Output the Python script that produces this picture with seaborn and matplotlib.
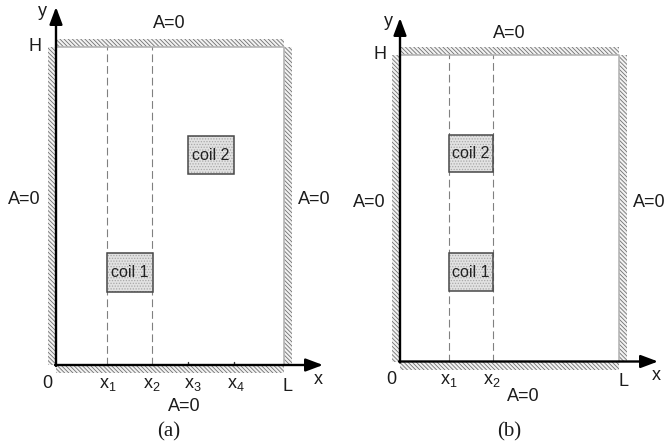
import matplotlib
matplotlib.use("Agg")
import matplotlib.pyplot as plt
from matplotlib.patches import Rectangle
import seaborn as sns

sns.set_theme(style="white")
plt.rcParams["font.family"] = ["Liberation Sans", "DejaVu Sans"]
plt.rcParams["mathtext.default"] = "regular"
plt.rcParams["mathtext.fontset"] = "custom"
plt.rcParams["mathtext.rm"] = "Liberation Sans"
plt.rcParams["hatch.linewidth"] = 0.6

FIG_W, FIG_H = 665, 448

# panel data (pixel-scale units measured from the origin)
L_a, H_a = 228, 318
dashes_a = [51, 96]
ticks_a = [132, 178]
coil_a_1 = (51, 73, 45.5, 39)
coil_a_2 = (131.5, 191, 46.5, 38)

L_b, H_b = 219, 306.5
dashes_b = [48.5, 93]
coil_b_1 = (48.5, 70.5, 44.5, 38)
coil_b_2 = (48.5, 189.5, 44.5, 37)


def draw_panel(left, right, ox, oy, L, H, dashes, coils, ticks, arrow_x, arrow_y, texts):
    ax = fig.add_axes([left / FIG_W, 0, (right - left) / FIG_W, 1])
    ax.set_xlim(left - ox, right - ox)
    ax.set_ylim(oy - FIG_H, oy)
    ax.axis("off")
    t = 8
    walls = [(0, H, L, t), (-t, 0, t, H), (L, 0, t, H), (0, -t, L, t)]
    for wall in walls:
        ax.add_patch(Rectangle(wall[:2], wall[2], wall[3], facecolor="#f2f2f2",
                               edgecolor="#707070", hatch="\\\\\\\\\\\\\\\\", lw=0, zorder=1))
    sns.lineplot(x=[0, L, L], y=[H, H, 0], color="#b5b5b5", lw=1.2, ax=ax, zorder=2,
                 sort=False, estimator=None, legend=False)
    for d in dashes:
        sns.lineplot(x=[d, d], y=[0, H], color="#808080", lw=0.8, ax=ax, zorder=2,
                     estimator=None, legend=False, linestyle=(0, (7, 3.5)))
    for tk in ticks:
        sns.lineplot(x=[tk, tk], y=[0, 3], color="#333333", lw=1, ax=ax, zorder=2,
                     estimator=None, legend=False)
    for (cx, cy, cw, ch), name in zip(coils, ["coil 1", "coil 2"]):
        ax.add_patch(Rectangle((cx, cy), cw, ch, facecolor="#e2e2e2", edgecolor="#a8a8a8",
                               hatch="......", lw=0, zorder=3))
        ax.add_patch(Rectangle((cx, cy), cw, ch, facecolor="none", edgecolor="#484848",
                               lw=1.1, zorder=4))
        ax.text(cx + cw / 2, cy + ch / 2, name, ha="center", va="center", fontsize=11.5,
                color="#222222", zorder=5)
    style = dict(arrowstyle="-|>,head_length=0.8,head_width=0.3", color="black", lw=1.7,
                 shrinkA=0, shrinkB=0, mutation_scale=13)
    ax.annotate("", xy=(0, arrow_y), xytext=(0, -1), arrowprops=style, zorder=6)
    ax.annotate("", xy=(arrow_x, 0), xytext=(-1, 0), arrowprops=style, zorder=6)
    for px, py, s, kw in texts:
        ax.text(px - ox, oy - py, s, ha="center", va="center", color="#1c1c1c", **kw)


fig = plt.figure(figsize=(FIG_W / 100, FIG_H / 100), dpi=100, facecolor="white")
sans = dict(fontsize=13)
serif = dict(fontsize=15, family="Liberation Serif")

draw_panel(0, 332, 56, 365, L_a, H_a, dashes_a, [coil_a_1, coil_a_2], ticks_a, 267, 358, [
    (42, 11, "y", sans), (169, 23, "A=0", sans), (35, 46, "H", sans),
    (24, 199, "A=0", sans), (314, 199, "A=0", sans),
    (47, 383, "0", sans), (108, 384, "$x_1$", sans), (152, 384, "$x_2$", sans),
    (193, 384, "$x_3$", sans), (236, 384, "$x_4$", sans), (288, 386, "L", sans),
    (318, 379, "x", sans), (184, 406, "A=0", sans), (169, 432, "(a)", serif),
])
draw_panel(332, 665, 400, 361.5, L_b, H_b, dashes_b, [coil_b_1, coil_b_2], [], 258, 343.5, [
    (388, 21, "y", sans), (509, 33, "A=0", sans), (380, 54, "H", sans),
    (369, 202, "A=0", sans), (649, 202, "A=0", sans),
    (391, 379, "0", sans), (449, 380, "$x_1$", sans), (492, 380, "$x_2$", sans),
    (623, 381, "L", sans), (656, 375, "x", sans), (523, 396, "A=0", sans),
    (509, 432, "(b)", serif),
])

fig.savefig("out.png", dpi=100)
